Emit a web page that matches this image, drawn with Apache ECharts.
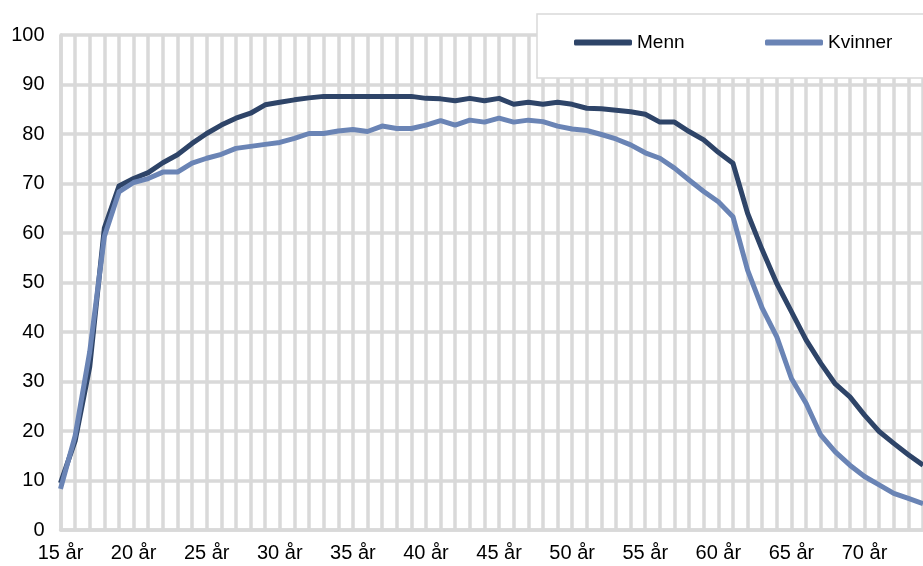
<!DOCTYPE html>
<html>
<head>
<meta charset="utf-8">
<script src="https://cdn.jsdelivr.net/npm/echarts@6/dist/echarts.min.js"></script>
<style>
  html, body { margin: 0; padding: 0; background: #fff; }
  #chart { width: 923px; height: 566px; }
</style>
</head>
<body>
<div id="chart"></div>
<script>
// Ages 15–74, one category per year
const ages = [];
for (let a = 15; a <= 74; a++) ages.push(a + ' år');

// Share (%) by age
const menn = [
  9.5, 18, 33, 61, 69.5, 71, 72.2, 74.2, 75.8, 78.1,
  80.1, 81.8, 83.2, 84.2, 85.9, 86.4, 86.9, 87.3, 87.6, 87.6,
  87.6, 87.6, 87.6, 87.6, 87.6, 87.2, 87.1, 86.7, 87.2, 86.7,
  87.2, 86.0, 86.4, 86.0, 86.4, 86.0, 85.2, 85.1, 84.8, 84.5,
  84.0, 82.4, 82.4, 80.5, 78.8, 76.3, 74.1, 64.0, 56.6, 49.8,
  44.1, 38.4, 33.7, 29.5, 26.9, 23.2, 19.9, 17.5, 15.2, 13.1
];
const kvinner = [
  8.3, 19, 36, 59.3, 68.3, 70.2, 71.0, 72.3, 72.3, 74.1,
  75.1, 75.9, 77.1, 77.5, 77.9, 78.3, 79.1, 80.1, 80.1, 80.6,
  80.9, 80.5, 81.6, 81.1, 81.1, 81.8, 82.7, 81.8, 82.8, 82.4,
  83.2, 82.4, 82.8, 82.5, 81.6, 81.0, 80.7, 79.9, 79.0, 77.8,
  76.2, 75.1, 73.1, 70.7, 68.4, 66.3, 63.3, 52.5, 44.8, 39.0,
  30.6, 25.6, 19.2, 15.8, 13.1, 10.8, 9.1, 7.4, 6.4, 5.3
];

const GRID = '#d9d9d9';
const FONT = '"Liberation Sans", Arial, sans-serif';

const chart = echarts.init(document.getElementById('chart'), null, { renderer: 'canvas' });
chart.setOption({
  animation: false,
  backgroundColor: '#fff',
  textStyle: { fontFamily: FONT },
  grid: { left: 60.5, top: 35, right: -6.7, bottom: 36, containLabel: false },
  xAxis: {
    type: 'category',
    data: ages,
    boundaryGap: false,
    axisLine: { show: true, lineStyle: { color: GRID, width: 3.5 } },
    axisTick: { show: false },
    axisLabel: { interval: 4, color: '#000', fontSize: 20, fontFamily: FONT, margin: 13 },
    splitLine: { show: true, interval: 0, lineStyle: { color: GRID, width: 3.5 } }
  },
  yAxis: {
    type: 'value',
    min: 0, max: 100, interval: 10,
    axisLine: { show: true, lineStyle: { color: GRID, width: 3.5 } },
    axisTick: { show: false },
    axisLabel: { color: '#000', fontSize: 20, fontFamily: FONT, margin: 16 },
    splitLine: { show: true, lineStyle: { color: GRID, width: 3.5 } }
  },
  graphic: [{
    type: 'rect',
    z: 50,
    shape: { x: 537, y: 14, width: 420, height: 64 },
    style: { fill: '#fff', stroke: GRID, lineWidth: 1.5 }
  }],
  legend: [
    {
      z: 60, left: 569, top: 28, itemWidth: 58, itemHeight: 6,
      icon: 'roundRect',
      data: ['Menn'],
      textStyle: { color: '#000', fontSize: 19, fontFamily: FONT }
    },
    {
      z: 60, left: 760, top: 28, itemWidth: 58, itemHeight: 6,
      icon: 'roundRect',
      data: ['Kvinner'],
      textStyle: { color: '#000', fontSize: 19, fontFamily: FONT }
    }
  ],
  series: [
    {
      name: 'Menn', type: 'line', data: menn,
      symbol: 'none', color: '#2E4468',
      lineStyle: { width: 5, color: '#2E4468', join: 'round' }
    },
    {
      name: 'Kvinner', type: 'line', data: kvinner,
      symbol: 'none', color: '#6A84B5',
      lineStyle: { width: 5, color: '#6A84B5', join: 'round' }
    }
  ]
});
</script>
</body>
</html>
